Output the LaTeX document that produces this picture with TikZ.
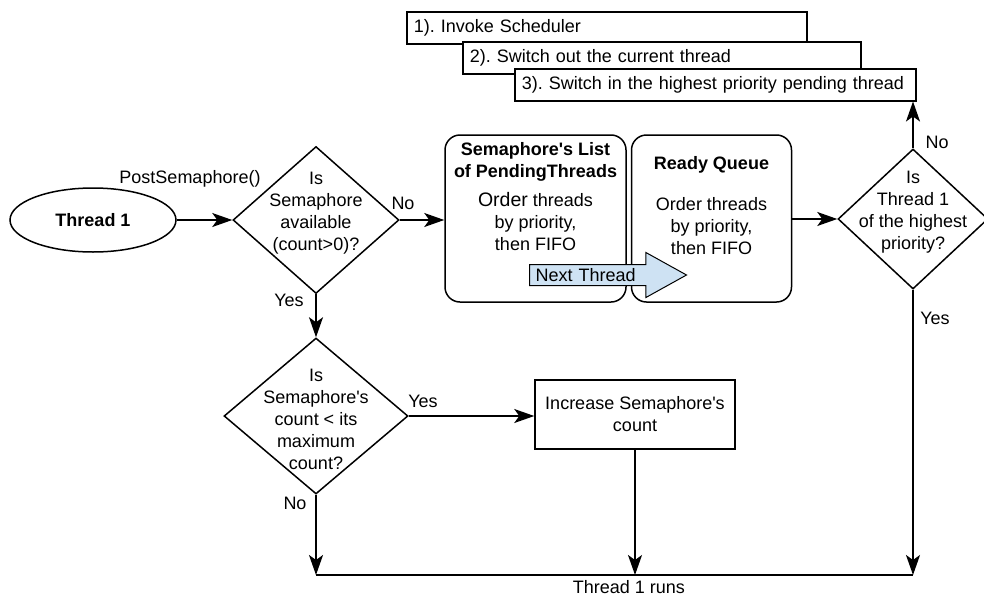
\documentclass[tikz,border=0pt]{standalone}
\usepackage{fontspec}
\setmainfont{Liberation Sans}
\usepackage{tikz}
\usetikzlibrary{positioning,shapes.geometric,shapes.arrows,arrows.meta}

\definecolor{nextblue}{RGB}{206,226,243}
\newcommand{\ap}{\textquotesingle}
\frenchspacing

\begin{document}
\begin{tikzpicture}[x=1pt, y=-1pt,
    font=\fontsize{18pt}{22pt}\selectfont,
    every node/.style={inner sep=0pt},
    line/.style={line width=1.5pt},
    flow/.style={line width=1.5pt, -{Stealth[length=20pt, width=14pt, inset=5pt]}},
    start/.style={ellipse, draw, line width=1.5pt, minimum width=166pt, minimum height=64pt},
    decision/.style={diamond, draw, line width=1.5pt},
    queuebox/.style={rectangle, draw, line width=1.5pt, rounded corners=15pt, minimum height=167pt},
    procbox/.style={rectangle, draw, line width=1.5pt, align=center},
    stepbox/.style={rectangle, draw, fill=white, line width=1.5pt, minimum height=32pt,
        inner xsep=7pt, align=left, anchor=north west},
    nextarrow/.style={single arrow, draw, fill=nextblue, line width=1pt,
        single arrow head extend=12pt, single arrow tip angle=58, single arrow head indent=0pt,
        minimum height=157pt, text width=106pt, align=left, inner xsep=6pt, inner ysep=3.5pt,
        text height=13pt, text depth=0pt}
]
\useasboundingbox (0,0) rectangle (984,597);

\node[stepbox, minimum width=400pt, text width=386pt] (s1) at (406,11) {1). Invoke Scheduler};
\node[stepbox, minimum width=398pt, text width=384pt] (s2) at (462,41) {2). Switch out the current thread};
\node[stepbox, minimum width=401pt, text width=387pt] (s3) at (514,68) {3). Switch in the highest priority pending thread};

\node[start] (thread) at (93,220) {\bfseries Thread 1};

\node[decision, minimum width=166pt, minimum height=147pt] (avail) at (316,220) {};
\node[align=center] (availtxt) at ([yshift=7pt]avail.center) {Is\\Semaphore\\available\\(count>0)?};

\node[queuebox, minimum width=181pt] (list) at (535.5,218.5) {};
\node[queuebox, minimum width=160pt, right=4pt of list] (ready) {};
\node[below=8pt of list.north, align=center] (listtxt)
    {\textbf{Semaphore\ap s List}\\\textbf{of PendingThreads}\\[7pt]{\fontsize{19.5pt}{22pt}\selectfont Order} threads\\by priority,\\then FIFO};
\node[below=22pt of ready.north, align=center] (readytxt)
    {\textbf{Ready Queue}\\[19pt]Order threads\\by priority,\\then FIFO};
\node[nextarrow, anchor=tail] (next) at (529,275) {\hspace*{-10pt}Next Thread};

\node[decision, minimum width=150pt, minimum height=140pt] (prio) at (913,219) {};
\node[align=center] (priotxt) at ([yshift=7pt]prio.center) {Is\\Thread 1\\of the highest\\priority?};

\node[decision, minimum width=184pt, minimum height=156pt] (cnt) at (316,416) {};
\node[align=center] (cnttxt) at ([yshift=-3pt]cnt.center) {Is\\Semaphore\ap s\\count < its\\maximum\\count?};

\node[procbox, minimum width=200pt, minimum height=69pt] (inc) at (635,414.5) {Increase Semaphore\ap s\\count};

\coordinate (runL) at (316,575);
\coordinate (runR) at (913,575);

\node (postlbl) at (190,179) {PostSemaphore()};
\node (no1) at (403,203) {No};
\node (yes1) at (289,300) {Yes};
\node (yes2) at (423,401) {Yes};
\node (no2) at (295,503) {No};
\node (no3) at (937,142) {No};
\node (yes3) at (935,318) {Yes};

\draw[flow] (thread.east) -- (avail.west);
\draw[flow] (avail.east) -- (avail.east -| list.west);
\draw[flow] (prio.west -| ready.east) -- (prio.west);
\draw[flow] (prio.north) -- (prio.north |- s3.south);
\draw[flow] (avail.south) -- (cnt.north);
\draw[flow] (cnt.east) -- (cnt.east -| inc.west);
\draw[flow] (cnt.south) -- (cnt.south |- runL);
\draw[flow] (inc.south) -- (inc.south |- runL);
\draw[flow] (prio.south) -- (runR);
\draw[line] (runL) -- node[below=5pt, pos=0.524] (runs) {Thread 1 runs} (runR);
\end{tikzpicture}
\end{document}
